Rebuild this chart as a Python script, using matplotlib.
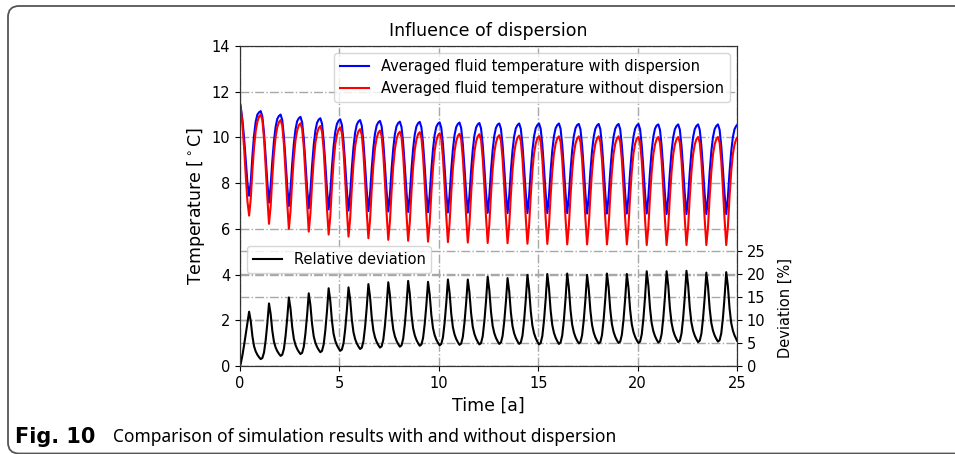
import numpy as np
import matplotlib
matplotlib.use("Agg")
import matplotlib.pyplot as plt
from matplotlib.path import Path
from matplotlib.patches import PathPatch

# ---------------- data ----------------
n_years = 25
samples_per_year = 12
start_blue = 11.5
start_red = 11.5
start_dev = 0.0
end_blue = 10.54
end_red = 9.98
end_dev = 5.5

blue_by_year = [
    [11.30, 10.75, 9.95, 9.00, 8.00, 7.45, 8.05, 9.20, 10.10, 10.70, 11.00, 11.10],
    [11.15, 10.91, 10.19, 9.15, 8.03, 7.15, 7.88, 8.96, 9.85, 10.46, 10.81, 10.94],
    [11.00, 10.76, 10.04, 9.00, 7.88, 7.00, 7.74, 8.83, 9.73, 10.35, 10.71, 10.84],
    [10.90, 10.66, 9.94, 8.90, 7.78, 6.90, 7.65, 8.75, 9.66, 10.29, 10.64, 10.78],
    [10.84, 10.60, 9.88, 8.85, 7.73, 6.85, 7.60, 8.70, 9.61, 10.24, 10.59, 10.73],
    [10.79, 10.55, 9.83, 8.80, 7.68, 6.80, 7.55, 8.66, 9.57, 10.21, 10.56, 10.70],
    [10.76, 10.52, 9.80, 8.77, 7.66, 6.78, 7.53, 8.63, 9.54, 10.17, 10.52, 10.66],
    [10.72, 10.48, 9.77, 8.74, 7.63, 6.76, 7.51, 8.61, 9.51, 10.14, 10.49, 10.63],
    [10.69, 10.45, 9.74, 8.72, 7.61, 6.74, 7.49, 8.59, 9.50, 10.13, 10.48, 10.62],
    [10.68, 10.44, 9.73, 8.71, 7.60, 6.73, 7.48, 8.58, 9.48, 10.11, 10.46, 10.60],
    [10.66, 10.42, 9.71, 8.69, 7.59, 6.72, 7.47, 8.57, 9.47, 10.10, 10.45, 10.59],
    [10.65, 10.41, 9.70, 8.68, 7.58, 6.71, 7.45, 8.55, 9.45, 10.08, 10.43, 10.57],
    [10.63, 10.39, 9.69, 8.67, 7.56, 6.70, 7.44, 8.54, 9.44, 10.07, 10.42, 10.56],
    [10.61, 10.38, 9.67, 8.65, 7.55, 6.69, 7.43, 8.53, 9.43, 10.05, 10.40, 10.54],
    [10.61, 10.38, 9.67, 8.65, 7.55, 6.69, 7.43, 8.53, 9.43, 10.05, 10.40, 10.54],
    [10.61, 10.38, 9.67, 8.65, 7.55, 6.69, 7.43, 8.53, 9.43, 10.05, 10.40, 10.54],
    [10.61, 10.38, 9.67, 8.65, 7.55, 6.69, 7.43, 8.53, 9.43, 10.05, 10.40, 10.54],
    [10.59, 10.36, 9.65, 8.63, 7.53, 6.67, 7.41, 8.51, 9.41, 10.03, 10.38, 10.52],
    [10.59, 10.36, 9.65, 8.63, 7.53, 6.67, 7.41, 8.51, 9.41, 10.03, 10.38, 10.52],
    [10.59, 10.36, 9.65, 8.63, 7.53, 6.67, 7.41, 8.51, 9.41, 10.03, 10.38, 10.52],
    [10.59, 10.36, 9.65, 8.63, 7.53, 6.67, 7.41, 8.51, 9.41, 10.03, 10.38, 10.52],
    [10.57, 10.34, 9.63, 8.61, 7.51, 6.65, 7.39, 8.49, 9.39, 10.01, 10.36, 10.50],
    [10.57, 10.34, 9.63, 8.61, 7.51, 6.65, 7.39, 8.49, 9.39, 10.01, 10.36, 10.50],
    [10.57, 10.34, 9.63, 8.61, 7.51, 6.65, 7.39, 8.49, 9.39, 10.01, 10.36, 10.50],
    [10.57, 10.34, 9.63, 8.61, 7.51, 6.65, 7.39, 8.49, 9.39, 10.01, 10.36, 10.50],
]

red_by_year = [
    [11.25, 10.55, 9.50, 8.30, 7.20, 6.58, 7.33, 8.57, 9.58, 10.29, 10.69, 10.91],
    [11.00, 10.76, 9.95, 8.71, 7.37, 6.22, 6.99, 8.26, 9.31, 10.03, 10.44, 10.67],
    [10.76, 10.52, 9.71, 8.48, 7.14, 6.00, 6.79, 8.08, 9.14, 9.88, 10.30, 10.53],
    [10.62, 10.38, 9.58, 8.34, 7.02, 5.88, 6.67, 7.96, 9.02, 9.76, 10.18, 10.41],
    [10.50, 10.26, 9.46, 8.22, 6.89, 5.75, 6.55, 7.86, 8.94, 9.69, 10.11, 10.35],
    [10.44, 10.20, 9.39, 8.15, 6.81, 5.66, 6.46, 7.78, 8.86, 9.61, 10.03, 10.27],
    [10.36, 10.12, 9.31, 8.07, 6.73, 5.59, 6.39, 7.71, 8.79, 9.55, 9.97, 10.21],
    [10.30, 10.06, 9.25, 8.01, 6.67, 5.52, 6.32, 7.65, 8.74, 9.49, 9.92, 10.16],
    [10.25, 10.01, 9.20, 7.96, 6.62, 5.48, 6.29, 7.62, 8.71, 9.47, 9.90, 10.14],
    [10.23, 9.99, 9.18, 7.93, 6.59, 5.44, 6.25, 7.57, 8.66, 9.42, 9.85, 10.09],
    [10.18, 9.94, 9.13, 7.90, 6.56, 5.42, 6.23, 7.55, 8.64, 9.40, 9.83, 10.07],
    [10.16, 9.92, 9.11, 7.88, 6.54, 5.40, 6.21, 7.53, 8.62, 9.38, 9.81, 10.05],
    [10.14, 9.90, 9.09, 7.86, 6.52, 5.38, 6.19, 7.50, 8.60, 9.35, 9.77, 10.01],
    [10.10, 9.86, 9.06, 7.83, 6.50, 5.37, 6.17, 7.48, 8.57, 9.33, 9.75, 9.99],
    [10.08, 9.84, 9.04, 7.81, 6.48, 5.35, 6.15, 7.46, 8.55, 9.31, 9.73, 9.97],
    [10.06, 9.82, 9.02, 7.79, 6.47, 5.34, 6.14, 7.45, 8.54, 9.30, 9.72, 9.96],
    [10.05, 9.81, 9.01, 7.78, 6.45, 5.32, 6.12, 7.44, 8.53, 9.29, 9.72, 9.95],
    [10.05, 9.81, 9.01, 7.78, 6.45, 5.32, 6.12, 7.44, 8.53, 9.29, 9.72, 9.95],
    [10.05, 9.81, 9.01, 7.78, 6.45, 5.32, 6.12, 7.44, 8.53, 9.29, 9.72, 9.95],
    [10.05, 9.81, 9.01, 7.78, 6.45, 5.32, 6.12, 7.44, 8.53, 9.29, 9.72, 9.95],
    [10.02, 9.78, 8.98, 7.75, 6.42, 5.29, 6.09, 7.41, 8.50, 9.26, 9.69, 9.92],
    [10.02, 9.78, 8.98, 7.75, 6.42, 5.29, 6.09, 7.41, 8.50, 9.26, 9.69, 9.92],
    [10.02, 9.78, 8.98, 7.75, 6.42, 5.29, 6.09, 7.41, 8.50, 9.26, 9.69, 9.92],
    [10.02, 9.78, 8.98, 7.75, 6.42, 5.29, 6.09, 7.41, 8.50, 9.26, 9.69, 9.92],
    [10.02, 9.78, 8.98, 7.75, 6.42, 5.29, 6.09, 7.41, 8.50, 9.26, 9.69, 9.92],
]

deviation_by_year = [
    [0.6, 2.4, 4.6, 7.0, 9.5, 11.8, 9.74, 6.44, 4.28, 3.15, 2.43, 1.91],
    [1.5, 1.74, 2.95, 5.61, 9.24, 13.6, 11.32, 7.67, 5.28, 4.02, 3.23, 2.66],
    [2.2, 2.45, 3.72, 6.52, 10.33, 14.9, 12.44, 8.50, 5.92, 4.57, 3.71, 3.09],
    [2.6, 2.86, 4.18, 7.09, 11.05, 15.8, 13.24, 9.14, 6.46, 5.05, 4.15, 3.51],
    [3.0, 3.28, 4.67, 7.73, 11.90, 16.9, 14.18, 9.83, 6.97, 5.48, 4.52, 3.84],
    [3.3, 3.58, 4.96, 7.99, 12.13, 17.1, 14.42, 10.13, 7.32, 5.84, 4.91, 4.24],
    [3.7, 3.98, 5.39, 8.49, 12.72, 17.8, 15.04, 10.62, 7.73, 6.21, 5.24, 4.55],
    [4.0, 4.28, 5.70, 8.83, 13.09, 18.2, 15.40, 10.92, 7.98, 6.44, 5.46, 4.76],
    [4.2, 4.49, 5.92, 9.06, 13.35, 18.5, 15.68, 11.17, 8.21, 6.66, 5.67, 4.96],
    [4.4, 4.68, 6.07, 9.13, 13.30, 18.3, 15.54, 11.12, 8.23, 6.71, 5.74, 5.05],
    [4.5, 4.79, 6.22, 9.36, 13.65, 18.8, 15.96, 11.42, 8.43, 6.87, 5.88, 5.17],
    [4.6, 4.88, 6.30, 9.43, 13.69, 18.8, 15.98, 11.47, 8.51, 6.96, 5.97, 5.26],
    [4.7, 4.99, 6.46, 9.70, 14.11, 19.4, 16.48, 11.81, 8.74, 7.14, 6.11, 5.38],
    [4.8, 5.09, 6.52, 9.66, 13.95, 19.1, 16.24, 11.66, 8.66, 7.09, 6.09, 5.37],
    [4.8, 5.10, 6.60, 9.90, 14.40, 19.8, 16.78, 11.95, 8.78, 7.12, 6.06, 5.30],
    [4.7, 5.01, 6.54, 9.90, 14.49, 20.0, 16.96, 12.10, 8.90, 7.23, 6.17, 5.41],
    [4.8, 5.11, 6.64, 10.00, 14.59, 20.1, 17.06, 12.20, 9.00, 7.33, 6.27, 5.51],
    [4.9, 5.20, 6.69, 9.97, 14.44, 19.8, 16.82, 12.05, 8.92, 7.28, 6.24, 5.50],
    [4.9, 5.20, 6.72, 10.07, 14.63, 20.1, 17.08, 12.25, 9.08, 7.42, 6.36, 5.60],
    [5.0, 5.30, 6.80, 10.10, 14.60, 20.0, 17.00, 12.20, 9.05, 7.40, 6.35, 5.60],
    [5.0, 5.31, 6.87, 10.30, 14.98, 20.6, 17.50, 12.54, 9.29, 7.58, 6.50, 5.72],
    [5.1, 5.41, 6.96, 10.37, 15.02, 20.6, 17.52, 12.59, 9.36, 7.66, 6.59, 5.82],
    [5.2, 5.51, 7.06, 10.47, 15.12, 20.7, 17.60, 12.64, 9.39, 7.68, 6.60, 5.82],
    [5.2, 5.50, 7.01, 10.33, 14.86, 20.3, 17.30, 12.50, 9.35, 7.70, 6.65, 5.90],
    [5.3, 5.60, 7.11, 10.43, 14.96, 20.4, 17.38, 12.55, 9.38, 7.72, 6.66, 5.90],
]

title = "Influence of dispersion"
label_blue = "Averaged fluid temperature with dispersion"
label_red = "Averaged fluid temperature without dispersion"
label_dev = "Relative deviation"
xlabel = "Time [a]"
ylabel_left = r"Temperature [$^\circ$C]"
ylabel_right = "Deviation [%]"
left_ticks = [0, 2, 4, 6, 8, 10, 12, 14]
right_ticks = [0, 5, 10, 15, 20, 25]
x_ticks = [0, 5, 10, 15, 20, 25]
caption_bold = "Fig. 10"
caption_text = "Comparison of simulation results with and without dispersion"

# ---------------- assemble series ----------------
t_mid = np.arange(n_years * samples_per_year) / samples_per_year + 0.5 / samples_per_year
time = np.concatenate([[0.0], t_mid, [float(n_years)]])
blue = np.concatenate([[start_blue], np.ravel(blue_by_year), [end_blue]])
red = np.concatenate([[start_red], np.ravel(red_by_year), [end_red]])
dev = np.concatenate([[start_dev], np.ravel(deviation_by_year), [end_dev]])

# ---------------- figure ----------------
W, H = 955, 454
fig = plt.figure(figsize=(W / 100, H / 100), dpi=100)
fig.patch.set_facecolor("white")

ax = fig.add_axes([240 / W, 1 - 366 / H, (737 - 240) / W, (366 - 46) / H])
ax2 = ax.twinx()

grid_kw = dict(color="#a8a8a8", linestyle="-.", linewidth=1.0)
ax.grid(True, **grid_kw)
ax2.grid(True, axis="y", **grid_kw)
ax.set_axisbelow(True)

l1, = ax.plot(time, blue, color="#0000ff", lw=1.5, label=label_blue)
l2, = ax.plot(time, red, color="#ff0000", lw=1.5, label=label_red)
l3, = ax2.plot(time, dev, color="black", lw=1.5, label=label_dev)

ax.set_xlim(0, 25)
ax.set_ylim(0, 14)
ax.set_xticks(x_ticks)
ax.set_yticks(left_ticks)
ax2.set_ylim(0, 25 * 320 / 115)
ax2.set_yticks(right_ticks)

ax.tick_params(labelsize=10.5)
ax2.tick_params(labelsize=10.5)
ax.set_title(title, fontsize=12.5, pad=7)
ax.set_xlabel(xlabel, fontsize=12.5, labelpad=4)
ax.set_ylabel(ylabel_left, fontsize=12.5, labelpad=3)
ax2.set_ylabel(ylabel_right, fontsize=10.5)
ax2.yaxis.set_label_coords(1.083, (366 - 308) / 320)

for a in (ax, ax2):
    for s in a.spines.values():
        s.set_color("#333333")

leg1 = ax.legend(handles=[l1, l2], loc="upper right", fontsize=10.5,
                 borderaxespad=0.5)
leg2 = ax2.legend(handles=[l3], loc="upper left", fontsize=10.5,
                  bbox_to_anchor=(7 / 497, (366 - 246) / 320), borderaxespad=0)

# ---------------- page frame (rounded on the left) ----------------
def fx(x):
    return x / W


def fy(y):
    return 1 - y / H


r = 11
x0, yt, yb, xr = 8, 6, 453.5, W + 20
verts = [(fx(xr), fy(yt)), (fx(x0 + r), fy(yt)), (fx(x0), fy(yt)), (fx(x0), fy(yt + r)),
         (fx(x0), fy(yb - r)), (fx(x0), fy(yb)), (fx(x0 + r), fy(yb)), (fx(xr), fy(yb))]
codes = [Path.MOVETO, Path.LINETO, Path.CURVE3, Path.CURVE3,
         Path.LINETO, Path.CURVE3, Path.CURVE3, Path.LINETO]
frame = PathPatch(Path(verts, codes), transform=fig.transFigure, fill=False,
                  edgecolor="#555555", linewidth=1.3, clip_on=False)
fig.patches.append(frame)

fig.text(15 / W, 1 - 437 / H, caption_bold, fontsize=15, fontweight="bold",
         family=["DejaVu Sans"], va="center", ha="left")
fig.text(113 / W, 1 - 437 / H, caption_text, fontsize=12.5,
         family=["Noto Sans", "DejaVu Sans"], va="center", ha="left")

fig.savefig("out.png", dpi=100)
